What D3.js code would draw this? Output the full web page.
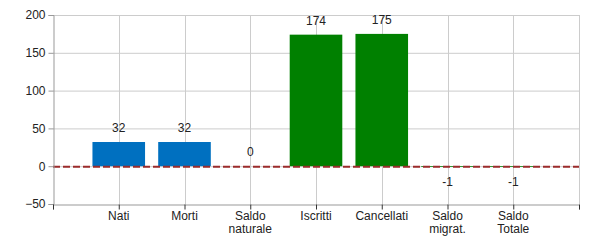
<!DOCTYPE html>
<html><head><meta charset="utf-8">
<script src="https://cdn.jsdelivr.net/npm/d3@7"></script>
<style>body{margin:0;background:#fff}svg text{font-family:"Liberation Sans",Arial,sans-serif;font-size:12px;fill:#222}</style>
</head><body><svg id="c" width="600" height="250"></svg>
<script>
const categories = ["Nati","Morti","Saldo\nnaturale","Iscritti","Cancellati","Saldo\nmigrat.","Saldo\nTotale"];
const values = [32,32,0,174,175,-1,-1];
const colors = ["#0070c0","#0070c0","#0070c0","#008000","#008000","#008000","#008000"];
const yTicks = [-50,0,50,100,150,200];

const svg = d3.select("#c");
const L=53,R=579,T=15,B=204;
const keys = ["_s"].concat(categories.map((c,i)=>"k"+i)).concat(["_e"]);
const x = d3.scalePoint().domain(keys).range([L,R]);
const step = x.step();
const y = d3.scaleLinear().domain([-50,200]).range([B,T]);

// grid
const g = svg.append("g");
g.selectAll("line.h").data(yTicks.filter(d=>d!==-50)).join("line")
 .attr("x1",L).attr("x2",R).attr("y1",d=>y(d)+0.5).attr("y2",d=>y(d)+0.5)
 .attr("stroke","#cccccc");
g.selectAll("line.v").data(keys.slice(1)).join("line")
 .attr("x1",d=>Math.round(x(d))+0.5).attr("x2",d=>Math.round(x(d))+0.5).attr("y1",T).attr("y2",B)
 .attr("stroke","#cccccc");

// bars
svg.selectAll("rect.bar").data(values).join("rect")
 .attr("x",(d,i)=>x("k"+i)-step*0.4).attr("width",step*0.8)
 .attr("y",d=>y(Math.max(d,0))).attr("height",d=>Math.abs(y(d)-y(0)))
 .attr("fill",(d,i)=>colors[i]);

// value labels
svg.selectAll("text.val").data(values).join("text")
 .attr("x",(d,i)=>x("k"+i)).attr("y",d=>d>=0? y(d)-14 : y(d)+15)
 .attr("dy","0.35em").attr("text-anchor","middle").text(d=>d);

// zero line
svg.append("line").attr("x1",L).attr("x2",R).attr("y1",y(0)+0.5).attr("y2",y(0)+0.5)
 .attr("stroke","#9b2b2b").attr("stroke-width",2).attr("stroke-dasharray","7,3");

// y axis
const ya = svg.append("g").attr("transform",`translate(${L+0.5},0)`)
 .call(d3.axisLeft(y).tickValues(yTicks).tickSize(5).tickPadding(3));
ya.select(".domain").attr("stroke","#999");
ya.selectAll(".tick line").attr("stroke","#999");
ya.selectAll(".tick text").attr("font-size",12).attr("font-family",null).attr("fill","#222");

// x axis
const xa = svg.append("g").attr("transform",`translate(0,${B+0.5})`)
 .call(d3.axisBottom(x).tickSize(5).tickFormat(""));
xa.select(".domain").attr("stroke","#999");
xa.selectAll(".tick line").attr("stroke","#333");
xa.selectAll(".tick").filter(d=>d==="_s").select("line").attr("stroke","#333");

// x labels
categories.forEach((c,i)=>{
  const t = svg.append("text").attr("x",x("k"+i)).attr("y",216).attr("dy","0.35em").attr("text-anchor","middle");
  c.split("\n").forEach((ln,j)=>{
    t.append("tspan").attr("x",x("k"+i)).attr("dy",j===0?"0.35em":"13").text(ln);
  });
});
</script></body></html>
